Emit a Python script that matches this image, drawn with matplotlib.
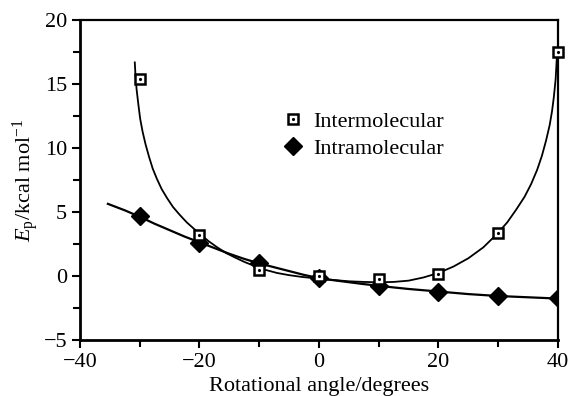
import numpy as np
import matplotlib.pyplot as plt
from matplotlib.ticker import MultipleLocator

# -- data --
angles = [-30, -20, -10, 0, 10, 20, 30, 40]
inter_e = [15.4, 3.2, 0.5, 0.0, -0.2, 0.2, 3.4, 17.5]
intra_e = [4.7, 2.6, 1.0, -0.15, -0.75, -1.2, -1.55, -1.7]

# fitted curves as drawn in the figure
inter_fit_x = [-30.8, -30.7, -30.5, -30.2, -29.9, -29.5, -29.0, -28.4, -27.8, -27.1, -26.3,
               -25.4, -24.4, -23.3, -22.1, -20.9, -19.9, -18.5, -17.0, -15.5, -14.0,
               -12.4, -10.8, -9.0, -7.0, -5.0, -3.0, -1.0, 1.0, 3.0, 5.0, 7.5, 10.0,
               12.5, 15.0, 17.5, 20.0, 22.5, 25.0, 27.5, 29.8, 31.5, 33.0, 34.4,
               35.5, 36.5, 37.3, 38.0, 38.6, 39.0, 39.3, 39.6, 39.8]
inter_fit_y = [16.7, 15.8, 14.6, 13.4, 12.3, 11.3, 10.3, 9.3, 8.4, 7.6, 6.8,
               6.1, 5.4, 4.8, 4.2, 3.7, 3.3, 2.75, 2.25, 1.8, 1.45,
               1.1, 0.8, 0.5, 0.25, 0.08, -0.05, -0.15, -0.25, -0.32, -0.4, -0.45, -0.48,
               -0.45, -0.35, -0.1, 0.25, 0.75, 1.4, 2.25, 3.3, 4.2, 5.2, 6.2,
               7.2, 8.3, 9.4, 10.6, 11.8, 12.9, 14.0, 15.4, 17.1]
intra_fit_x = [-35.3, -32.5, -30, -27.5, -25, -22.5, -20, -17.5, -15, -12.5, -10, -7.5, -5,
               -2.5, 0, 2.5, 5, 7.5, 10, 12.5, 15, 17.5, 20, 25, 30, 35, 40]
intra_fit_y = [5.65, 5.15, 4.65, 4.1, 3.6, 3.1, 2.65, 2.2, 1.75, 1.35, 1.0, 0.7, 0.4,
               0.1, -0.15, -0.32, -0.47, -0.62, -0.75, -0.88, -1.0, -1.1, -1.2,
               -1.4, -1.55, -1.65, -1.75]


def main():
    plt.rcParams['font.family'] = ['Liberation Serif', 'DejaVu Serif']
    plt.rcParams['mathtext.fontset'] = 'custom'
    plt.rcParams['mathtext.rm'] = 'Liberation Serif'
    plt.rcParams['mathtext.it'] = 'Liberation Serif:italic'

    fig = plt.figure(figsize=(5.7, 3.96), dpi=100)
    ax = fig.add_axes([0.140, 0.141, 0.839, 0.808])

    # -- curves --
    ax.plot(inter_fit_x, inter_fit_y, color='black', lw=1.3, zorder=2)
    ax.plot(intra_fit_x, intra_fit_y, color='black', lw=1.6, zorder=2)

    # -- markers --
    ax.plot(angles, intra_e, ls='none', marker='D', ms=9, color='black', zorder=3)
    h_sq, = ax.plot(angles, inter_e, ls='none', marker='s', ms=7, mfc='white',
                    mec='black', mew=1.8, zorder=4, clip_on=False)
    h_dot, = ax.plot(angles, inter_e, ls='none', marker='.', ms=2.5, color='black',
                     zorder=5, clip_on=False)
    h_dia, = ax.plot([], [], ls='none', marker='D', ms=9, color='black')

    ax.legend([(h_sq, h_dot), h_dia], ['Intermolecular', 'Intramolecular'],
              loc='upper left', bbox_to_anchor=(0.405, 0.75), frameon=False,
              fontsize=16, handlelength=0.8, handletextpad=0.5, labelspacing=0.3,
              borderpad=0)

    # -- axes --
    ax.set_xlim(-40, 40)
    ax.set_ylim(-5, 20)
    ax.xaxis.set_minor_locator(MultipleLocator(10))
    ax.yaxis.set_minor_locator(MultipleLocator(2.5))
    ax.tick_params(which='both', direction='out', labelsize=16, width=1.5,
                   top=False, right=False)
    ax.tick_params(which='major', length=6, pad=3)
    ax.tick_params(which='minor', length=5)
    ax.set_xticks([-40, -20, 0, 20, 40])
    ax.set_xticklabels(['\u221240', '\u221220', '0', '20', '40'])
    ax.set_yticks([-5, 0, 5, 10, 15, 20])
    ax.set_yticklabels(['\u22125', '0', '5', '10', '15', '20'])
    for side in ['left', 'bottom']:
        ax.spines[side].set_linewidth(2.0)
    for side in ['top', 'right']:
        ax.spines[side].set_linewidth(1.6)

    ax.set_xlabel('Rotational angle/degrees', fontsize=16, labelpad=4)
    ax.set_ylabel(r'$E_\mathrm{p}$/kcal mol$^{-1}$', fontsize=16, labelpad=2)

    plt.savefig('out.png', dpi=100)


if __name__ == "__main__":
    main()
